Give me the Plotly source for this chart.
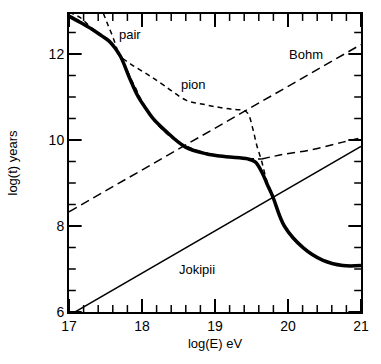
import numpy as np
import plotly.graph_objects as go

# total energy-loss time
total_E = [17.0, 17.15, 17.32, 17.45, 17.55, 17.63, 17.71, 17.84, 17.95, 18.05, 18.15, 18.31,
           18.59, 18.88, 19.15, 19.45, 19.55, 19.64, 19.71, 19.79, 19.95, 20.21, 20.48, 20.75, 21.0]
total_t = [12.88, 12.74, 12.57, 12.42, 12.3, 12.14, 11.93, 11.4, 11.0, 10.74, 10.5, 10.23,
           9.84, 9.68, 9.61, 9.56, 9.49, 9.26, 8.99, 8.69, 8.0, 7.49, 7.2, 7.08, 7.08]

pion_E = [17.0, 17.15, 17.3, 17.45, 17.6, 17.68, 17.85, 18.08, 18.31, 18.61, 18.84, 19.05,
          19.25, 19.39, 19.45, 19.52, 19.57, 19.64, 19.71, 19.79, 19.95, 20.21, 20.48, 20.75, 21.0]
pion_t = [12.97, 12.85, 12.62, 12.43, 12.2, 11.98, 11.76, 11.52, 11.26, 10.92, 10.83, 10.76,
          10.71, 10.69, 10.62, 10.25, 9.89, 9.5, 9.05, 8.72, 8.02, 7.5, 7.21, 7.09, 7.09]

pair_E = [17.47, 17.53, 17.6, 17.68, 17.77, 17.84, 17.9, 18.0, 18.2, 18.5, 18.88, 19.15, 19.45, 19.55, 19.64]
pair_t = [12.95, 12.69, 12.4, 12.02, 11.72, 11.45, 11.25, 10.9, 10.38, 9.95, 9.69, 9.62, 9.57, 9.56, 9.56]
pair_hi_E = [19.64, 19.92, 20.31, 20.75, 21.0]
pair_hi_t = [9.56, 9.66, 9.77, 9.95, 10.05]

bohm_E = [17.0, 21.0]
bohm_t = [8.33, 12.22]

jokipii_E = [17.0, 21.0]
jokipii_t = [5.92, 9.85]

labels = ["pair", "pion", "Bohm", "Jokipii"]
label_E = [17.83, 18.71, 20.24, 18.75]
label_t = [12.45, 11.29, 11.99, 7.0]

x_ticks = [17, 18, 19, 20, 21]
y_ticks = [6, 8, 10, 12]
x_range = [17, 21]
y_range = [6, 12.93]

fig = go.Figure()

fig.add_trace(go.Scatter(x=jokipii_E, y=jokipii_t, mode="lines",
                         line=dict(color="black", width=1.5)))
fig.add_trace(go.Scatter(x=bohm_E, y=bohm_t, mode="lines",
                         line=dict(color="black", width=1.5, dash="9px,5px")))
fig.add_trace(go.Scatter(x=pion_E, y=pion_t, mode="lines",
                         line=dict(color="black", width=1.5, dash="5px,4px", shape="spline", smoothing=1)))
fig.add_trace(go.Scatter(x=pair_E, y=pair_t, mode="lines",
                         line=dict(color="black", width=1.5, dash="5px,4px", shape="spline", smoothing=1)))
fig.add_trace(go.Scatter(x=pair_hi_E, y=pair_hi_t, mode="lines",
                         line=dict(color="black", width=1.5, dash="8px,5px", shape="spline", smoothing=1)))
fig.add_trace(go.Scatter(x=total_E, y=total_t, mode="lines",
                         line=dict(color="black", width=3.5, shape="spline", smoothing=1)))

for txt, e, t in zip(labels, label_E, label_t):
    fig.add_annotation(x=e, y=t, text=txt, showarrow=False,
                       font=dict(size=13, color="black"))

# axis ticks don't show in the renderer -> draw inside ticks on all four sides as line segments
PLOT_PX = 300
dx = (x_range[1] - x_range[0]) / PLOT_PX   # data units per pixel
dy = (y_range[1] - y_range[0]) / PLOT_PX
x_minor = [v for v in np.arange(17, 21.001, 0.2) if abs(v - round(v)) > 1e-6]
y_minor = [v for v in np.arange(6, 12.93, 0.5) if abs(v / 2 - round(v / 2)) > 1e-6]

def tick_segments(xvals, yvals, length_px):
    xs, ys = [], []
    for v in xvals:
        xs += [v, v, None, v, v, None]
        ys += [y_range[0], y_range[0] + length_px * dy, None,
               y_range[1], y_range[1] - length_px * dy, None]
    for v in yvals:
        xs += [x_range[0], x_range[0] + length_px * dx, None,
               x_range[1], x_range[1] - length_px * dx, None]
        ys += [v, v, None, v, v, None]
    return xs, ys

for xv, yv, ln, w in [(x_ticks, y_ticks, 13, 2), (x_minor, y_minor, 7, 1.5)]:
    tx, ty = tick_segments(xv, yv, ln)
    fig.add_trace(go.Scatter(x=tx, y=ty, mode="lines", hoverinfo="skip",
                             line=dict(color="black", width=w)))

fig.update_layout(
    width=381, height=364,
    margin=dict(l=69, r=12, t=12, b=52),
    plot_bgcolor="white", paper_bgcolor="white",
    showlegend=False,
    font=dict(family="Liberation Sans, Arial, sans-serif", color="black"),
)
fig.update_xaxes(range=x_range, tickvals=x_ticks,
                 showgrid=False, zeroline=False, showline=True, linecolor="black", linewidth=2,
                 mirror=True, ticks="", tickfont=dict(size=14, color="black"),
                 title=dict(text="log(E) eV", font=dict(size=13), standoff=6))
fig.update_yaxes(range=y_range, tickvals=y_ticks,
                 showgrid=False, zeroline=False, showline=True, linecolor="black", linewidth=2,
                 mirror=True, ticks="", tickfont=dict(size=14, color="black"),
                 title=dict(text="log(t) years", font=dict(size=13), standoff=28))

# page body has a default margin; drop it so the figure sits at the window corner
fig.write_html("out.html", config={"displayModeBar": False},
               post_script="document.body.style.margin='0';")
